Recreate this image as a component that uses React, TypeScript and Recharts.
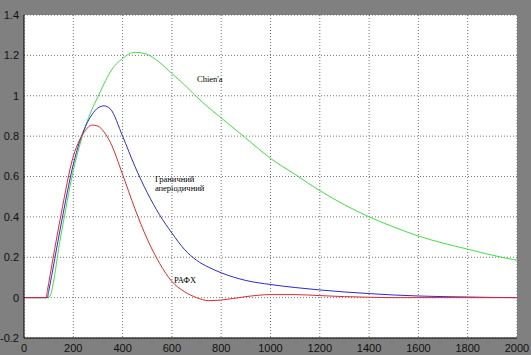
import React from 'react';
import { LineChart, Line, XAxis, YAxis, CartesianGrid, ReferenceDot } from 'recharts';

const timeValues = [0, 80, 90, 95, 100, 150, 200, 225, 250, 275, 300, 325, 350, 400, 450, 500, 550, 600, 650, 700, 750, 800, 900, 1000, 1100, 1200, 1300, 1400, 1500, 1600, 1700, 1800, 1900, 2000];

const chienValues = [0, 0, 0, 0, 0, 0.31, 0.63, 0.75, 0.85, 0.93, 0.995, 1.06, 1.118, 1.185, 1.215, 1.205, 1.165, 1.11, 1.055, 0.995, 0.94, 0.89, 0.79, 0.69, 0.61, 0.53, 0.46, 0.40, 0.35, 0.305, 0.27, 0.24, 0.21, 0.185];

const aperiodicValues = [0, 0, 0, 0, 0.03, 0.36, 0.66, 0.77, 0.85, 0.905, 0.94, 0.95, 0.935, 0.8, 0.65, 0.52, 0.41, 0.32, 0.24, 0.185, 0.15, 0.123, 0.085, 0.065, 0.05, 0.038, 0.028, 0.02, 0.013, 0.008, 0.005, 0.003, 0.001, 0];

const rafhValues = [0, 0, 0, 0.035, 0.07, 0.41, 0.7, 0.78, 0.83, 0.855, 0.85, 0.82, 0.77, 0.61, 0.44, 0.29, 0.17, 0.08, 0.03, 0.0, -0.015, -0.012, 0.005, 0.015, 0.015, 0.01, 0.005, 0.002, 0, 0, 0, 0, 0, 0];

const xTicks = [0, 200, 400, 600, 800, 1000, 1200, 1400, 1600, 1800, 2000];
const yTicks = [-0.2, 0, 0.2, 0.4, 0.6, 0.8, 1, 1.2, 1.4];

const annotationTexts = ["Chien'a", 'Граничний', 'аперіодичний', 'РАФХ'];
const annotationX = [702, 531, 531, 609];
const annotationY = [1.082, 0.589, 0.542, 0.089];

const data = timeValues.map((t, i) => ({
  t,
  chien: chienValues[i],
  aper: aperiodicValues[i],
  rafh: rafhValues[i],
}));

const tickStyle = { fontSize: 11, fontFamily: 'Liberation Sans, Arial, sans-serif', fill: '#111' };

const makeLabel = (txt: string) => (props: any) => {
  const vb = props.viewBox || {};
  return (
    <text
      x={vb.x}
      y={vb.y}
      dy="0.35em"
      textAnchor="start"
      fill="#000"
      fontSize={8.5}
      fontFamily="Liberation Serif, Times New Roman, serif"
    >
      {txt}
    </text>
  );
};

export default function App() {
  return (
    <div style={{ position: 'absolute', left: 0, top: 0, width: 531, height: 355, background: '#808080' }}>
      <LineChart width={531} height={355} data={data} margin={{ top: 15, right: 14, bottom: 0, left: 0 }}>
        <CartesianGrid fill="#ffffff" stroke="#777" strokeDasharray="1 2" horizontalValues={yTicks} verticalValues={xTicks} />
        <XAxis
          dataKey="t"
          type="number"
          domain={[0, 2000]}
          ticks={xTicks}
          height={17}
          tickSize={0}
          tickMargin={6}
          tick={tickStyle}
          axisLine={{ stroke: '#000' }}
          allowDataOverflow
        />
        <XAxis
          xAxisId="top"
          orientation="top"
          dataKey="t"
          type="number"
          domain={[0, 2000]}
          ticks={xTicks}
          height={0}
          tick={false}
          tickSize={-4}
          tickLine={{ stroke: '#000' }}
          axisLine={{ stroke: '#000' }}
        />
        <YAxis
          type="number"
          domain={[-0.2, 1.4]}
          ticks={yTicks}
          width={24}
          tickSize={0}
          tickMargin={5}
          tick={tickStyle}
          axisLine={{ stroke: '#000' }}
          allowDataOverflow
        />
        <YAxis
          yAxisId="right"
          orientation="right"
          type="number"
          domain={[-0.2, 1.4]}
          ticks={yTicks}
          width={0}
          tick={false}
          tickSize={-4}
          tickLine={{ stroke: '#000' }}
          axisLine={{ stroke: '#000' }}
        />
        <Line type="monotone" dataKey="chien" stroke="#40e040" strokeWidth={1} dot={false} isAnimationActive={false} />
        <Line type="monotone" dataKey="aper" stroke="#2a2ad8" strokeWidth={1} dot={false} isAnimationActive={false} />
        <Line type="monotone" dataKey="rafh" stroke="#e02a2a" strokeWidth={1} dot={false} isAnimationActive={false} />
        {annotationTexts.map((txt, i) => (
          <ReferenceDot
            key={txt}
            x={annotationX[i]}
            y={annotationY[i]}
            r={0}
            fill="none"
            stroke="none"
            label={makeLabel(txt)}
          />
        ))}
      </LineChart>
    </div>
  );
}
